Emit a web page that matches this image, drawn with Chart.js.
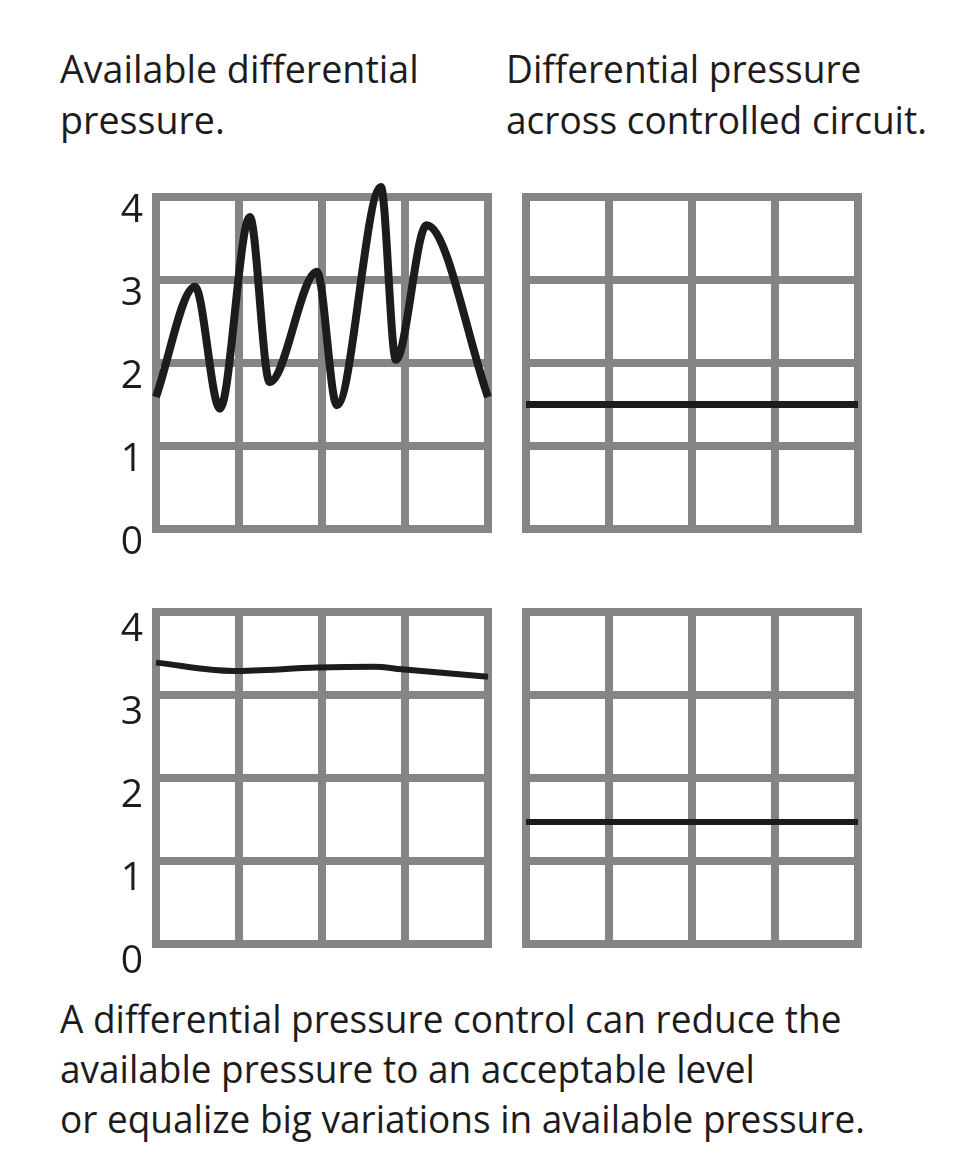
<!DOCTYPE html>
<html>
<head>
<meta charset="utf-8">
<script src="https://cdn.jsdelivr.net/npm/chart.js@4/dist/chart.umd.min.js"></script>
<style>
  html, body { margin: 0; padding: 0; background: #ffffff; }
  body { width: 972px; height: 1165px; position: relative; overflow: hidden; font-family: "Open Sans", "Noto Sans", sans-serif; color: #1e1b1c; }
  .txt { position: absolute; font-size: 39px; font-weight: 500; line-height: 51px; white-space: nowrap; transform-origin: 0 0; }
  canvas { position: absolute; }
  .box { position: absolute; }
</style>
</head>
<body>
<div class="txt" id="t1" style="left:60px; top:42px; transform:scaleX(0.965);">Available differential<br>pressure.</div>
<div class="txt" id="t2" style="left:506px; top:42px; transform:scaleX(0.95);">Differential pressure<br>across controlled circuit.</div>
<div class="txt" id="cap" style="left:60px; top:993px; line-height:50px; transform:scaleX(0.948);">A differential pressure control can reduce the<br>available pressure to an acceptable level<br>or equalize big variations in available pressure.</div>

<div class="box" style="left:86px; top:147px; width:417px; height:432px;"><canvas id="c1"></canvas></div>
<div class="box" style="left:501px; top:147px; width:392px; height:432px;"><canvas id="c2"></canvas></div>
<div class="box" style="left:86px; top:562px; width:417px; height:432px;"><canvas id="c3"></canvas></div>
<div class="box" style="left:501px; top:562px; width:392px; height:432px;"><canvas id="c4"></canvas></div>

<script>
// ---- data ----
const yTickLabels = ["0", "1", "2", "3", "4"];

// Top-left: available differential pressure (fluctuating)
const availX = [0, 0.47, 0.77, 1.13, 1.37, 1.94, 2.18, 2.71, 2.89, 3.26, 4.0];
const availY = [1.59, 2.92, 1.45, 3.76, 1.77, 3.10, 1.49, 4.12, 2.04, 3.66, 1.59];

// Top-right: controlled circuit pressure
const ctrlTopX = [0, 4];
const ctrlTopY = [1.5, 1.5];

// Bottom-left: high but steady available pressure
const availHighX = [0, 0.93, 1.94, 2.63, 2.96, 4.0];
const availHighY = [3.39, 3.29, 3.33, 3.34, 3.31, 3.22];

// Bottom-right: controlled circuit pressure
const ctrlBotX = [0, 4];
const ctrlBotY = [1.47, 1.47];

function pts(xs, ys) { return xs.map((x, i) => ({ x: x, y: ys[i] })); }

const GRID = '#858585';
const squareCaps = {
  id: 'squareCaps',
  beforeDraw(chart) { chart.ctx.lineCap = 'square'; }
};

function makeChart(id, data, opt) {
  const ctx = document.getElementById(id);
  return new Chart(ctx, {
    type: 'line',
    data: {
      datasets: [{
        data: data,
        borderColor: '#1c1c1c',
        borderWidth: opt.lw,
        pointRadius: 0,
        fill: false,
        clip: false,
        cubicInterpolationMode: 'monotone',
        borderCapStyle: 'butt',
        borderJoinStyle: 'round'
      }]
    },
    options: {
      responsive: true,
      maintainAspectRatio: false,
      animation: false,
      events: [],
      layout: { padding: { left: opt.showY ? 10 : 25, top: 50, right: opt.showY ? 15 : 35, bottom: 50 } },
      plugins: { legend: { display: false }, tooltip: { enabled: false }, title: { display: false } },
      scales: {
        x: {
          type: 'linear', min: 0, max: 4,
          ticks: { display: false, stepSize: 1 },
          grid: { color: GRID, lineWidth: 8, drawTicks: false },
          border: { display: false },
          afterFit: (s) => { s.height = 0; }
        },
        y: {
          type: 'linear', min: 0, max: 4,
          ticks: {
            display: opt.showY,
            stepSize: 1,
            padding: 13,
            labelOffset: opt.labelOffset,
            color: '#1e1b1c',
            font: { family: '"Open Sans", "Noto Sans", sans-serif', size: 39, weight: '500' },
            callback: (v) => yTickLabels[v]
          },
          grid: { color: GRID, lineWidth: 8, drawTicks: false },
          border: { display: false },
          afterFit: (s) => { s.width = opt.showY ? 60 : 0; }
        }
      }
    },
    plugins: [squareCaps]
  });
}

makeChart('c1', pts(availX, availY), { showY: true, lw: 8, labelOffset: 14 });
makeChart('c2', pts(ctrlTopX, ctrlTopY), { showY: false, lw: 7, labelOffset: 14 });
makeChart('c3', pts(availHighX, availHighY), { showY: true, lw: 6, labelOffset: 18 });
makeChart('c4', pts(ctrlBotX, ctrlBotY), { showY: false, lw: 6, labelOffset: 18 });
</script>
</body>
</html>
